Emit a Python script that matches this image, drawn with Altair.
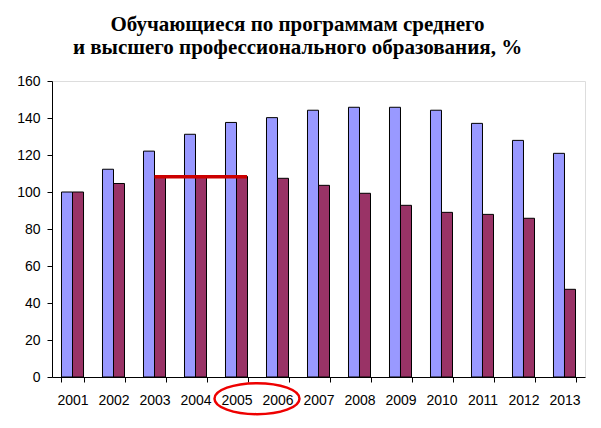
import altair as alt
import pandas as pd

years = ["2001", "2002", "2003", "2004", "2005", "2006", "2007",
         "2008", "2009", "2010", "2011", "2012", "2013"]
# two series (2001 = 100)
series_a = [100, 112.3, 122.1, 131.2, 137.6, 140.2, 144.2,
            145.8, 145.8, 144.2, 137.1, 127.9, 120.9]
series_b = [100, 104.6, 108.1, 108.2, 108.4, 107.4, 103.6,
            99.3, 92.8, 89.0, 87.9, 85.8, 47.4]
series_names = ["a", "b"]
series_colors = ["#9999FF", "#993366"]
y_ticks = [0, 20, 40, 60, 80, 100, 120, 140, 160]

# red marker line over 2003-2005 and the circled years
line_start, line_end, line_value = "2003", "2005", 108.2
circle_year, circle_level = "2006", -11.7

title_lines = ["Обучающиеся по программам среднего",
               "и высшего профессионального образования, %"]

df = pd.DataFrame({
    "year": years * 2,
    "series": [series_names[0]] * len(years) + [series_names[1]] * len(years),
    "value": series_a + series_b,
})

x_scale = alt.Scale(domain=years, paddingInner=0.463, paddingOuter=0.2317)
y_scale = alt.Scale(domain=[0, 160], nice=False)

# same axis objects in every layer so the merged axes keep their settings
x_axis = alt.Axis(title=None, labelAngle=0, tickBand="extent",
                  domainColor="black", tickColor="black",
                  tickSize=5, labelPadding=11, labelFontSize=14,
                  labelFont="Liberation Sans", labelColor="black",
                  labelOverlap=False, grid=False)
y_axis = alt.Axis(title=None, values=y_ticks,
                  domainColor="black", tickColor="black", tickSize=5,
                  labelPadding=7, labelFontSize=14,
                  labelFont="Liberation Sans", labelColor="black",
                  labelOverlap=False, grid=False)

bars = alt.Chart(df).mark_bar(stroke="black", strokeWidth=1).encode(
    x=alt.X("year:N", scale=x_scale, sort=years, axis=x_axis),
    xOffset=alt.XOffset("series:N", scale=alt.Scale(paddingInner=0, paddingOuter=0)),
    y=alt.Y("value:Q", scale=y_scale, axis=y_axis),
    color=alt.Color("series:N", scale=alt.Scale(domain=series_names, range=series_colors),
                    legend=None),
)

line_df = pd.DataFrame({"start": [line_start], "end": [line_end], "value": [line_value]})
red_line = alt.Chart(line_df).mark_rule(color="#CC0000", strokeWidth=3.5, x2Offset=10.5).encode(
    x=alt.X("start:N", scale=x_scale, axis=x_axis),
    x2=alt.X2("end:N"),
    y=alt.Y("value:Q", scale=y_scale, axis=y_axis),
)

# ellipse drawn with beziers in unit coordinates (scaled by sqrt(size)/2)
ellipse_path = ("M -1 0 C -1 -0.2016 -0.5523 -0.365 0 -0.365 "
                "C 0.5523 -0.365 1 -0.2016 1 0 "
                "C 1 0.2016 0.5523 0.365 0 0.365 "
                "C -0.5523 0.365 -1 0.2016 -1 0 Z")

# band start sits inside the padding, so nudge back onto the tick between years
circle_df = pd.DataFrame({"year": [circle_year], "level": [circle_level]})
ellipse = alt.Chart(circle_df).mark_point(
    shape=ellipse_path,
    size=7225, filled=False, stroke="#EE0000", strokeWidth=2.5,
    opacity=1, clip=False, xOffset=-9.5,
).encode(
    x=alt.X("year:N", scale=x_scale, bandPosition=0, axis=x_axis),
    y=alt.Y("level:Q", scale=y_scale, axis=y_axis),
)

chart = alt.layer(bars, red_line, ellipse).properties(
    width=533,
    height=296,
    padding={"left": 44, "top": 73, "right": 8, "bottom": 40},
    autosize=alt.AutoSizeParams(type="none"),
    title=alt.TitleParams(
        text=title_lines, font="Liberation Serif", fontSize=21,
        fontWeight="bold", color="black", anchor="middle", dx=-21,
        offset=16, lineHeight=23,
    ),
).configure_view(
    stroke="#808080", strokeWidth=1
).configure(background="white")

chart.save("out.html", embed_options={"renderer": "svg", "actions": False})
